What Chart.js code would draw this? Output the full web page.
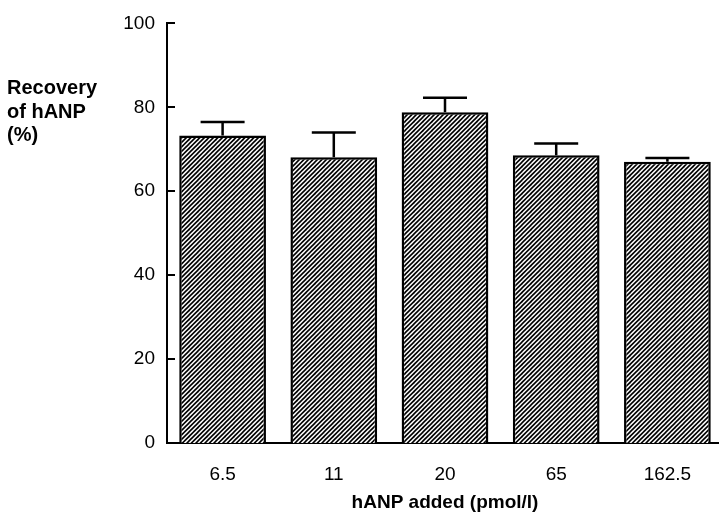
<!DOCTYPE html>
<html>
<head>
<meta charset="utf-8">
<script src="https://cdn.jsdelivr.net/npm/chart.js@4/dist/chart.umd.min.js"></script>
<style>
  html, body { margin: 0; padding: 0; background: #fff; overflow: hidden; }
  #wrap { width: 725px; height: 530px; }
</style>
</head>
<body>
<div id="wrap"><canvas id="recoveryChart" width="725" height="530"></canvas></div>
<script>
const doses = ['6.5', '11', '20', '65', '162.5'];
const recovery = [73.3, 68.1, 78.8, 68.6, 67.0];
const recoveryErr = [3.2, 5.9, 3.5, 2.8, 0.9];
const yTicks = [0, 20, 40, 60, 80, 100];
const yTitleLines = ['Recovery', 'of hANP', '(%)'];

const FONT = '"Liberation Sans", Arial, Helvetica, sans-serif';

// diagonal "/" hatch fill
function makeHatch() {
  const size = 9;
  const c = document.createElement('canvas');
  c.width = size; c.height = size;
  const g = c.getContext('2d');
  g.fillStyle = '#fff';
  g.fillRect(0, 0, size, size);
  g.strokeStyle = '#000';
  g.lineWidth = 1.6;
  for (let k = -9; k <= 18; k += 4.5) {
    g.beginPath();
    g.moveTo(k - 2, 2 + size);
    g.lineTo(k + size + 2, -2);
    g.stroke();
  }
  return g.createPattern(c, 'repeat');
}

// small ticks pointing into the plot, plus the upward error bars
const extras = {
  id: 'extras',
  afterDatasetsDraw(chart) {
    const ctx = chart.ctx;
    const y = chart.scales.y;
    const meta = chart.getDatasetMeta(0);
    ctx.save();
    ctx.strokeStyle = '#000';
    ctx.lineWidth = 2.5;
    meta.data.forEach((bar, i) => {
      const top = y.getPixelForValue(recovery[i] + recoveryErr[i]);
      ctx.beginPath();
      ctx.moveTo(bar.x, bar.y);
      ctx.lineTo(bar.x, top);
      ctx.moveTo(bar.x - 22, top);
      ctx.lineTo(bar.x + 22, top);
      ctx.stroke();
    });
    ctx.lineWidth = 2;
    yTicks.forEach(v => {
      const py = Math.round(y.getPixelForValue(v));
      ctx.beginPath();
      ctx.moveTo(y.right, py);
      ctx.lineTo(y.right + 8, py);
      ctx.stroke();
    });
    ctx.restore();
  },
  afterDraw(chart) {
    const ctx = chart.ctx;
    ctx.save();
    ctx.fillStyle = '#000';
    ctx.font = 'bold 20px ' + FONT;
    ctx.textAlign = 'left';
    ctx.textBaseline = 'alphabetic';
    yTitleLines.forEach((t, i) => ctx.fillText(t, 7, 94 + i * 23.5));
    ctx.restore();
  }
};

new Chart(document.getElementById('recoveryChart'), {
  type: 'bar',
  data: {
    labels: doses,
    datasets: [{
      data: recovery,
      backgroundColor: makeHatch(),
      borderColor: '#000',
      borderWidth: 2.5,
      borderSkipped: 'start',
      categoryPercentage: 1,
      barPercentage: 0.78
    }]
  },
  options: {
    responsive: false,
    animation: false,
    devicePixelRatio: 1,
    layout: { padding: { top: 13, right: 2, left: 0, bottom: 0 } },
    plugins: { legend: { display: false }, tooltip: { enabled: false } },
    scales: {
      x: {
        grid: { display: false, drawTicks: false },
        border: { display: true, color: '#000', width: 2 },
        ticks: { color: '#000', font: { family: FONT, size: 19 }, padding: 20 },
        title: {
          display: true,
          text: 'hANP added (pmol/l)',
          color: '#000',
          font: { family: FONT, size: 19, weight: 'bold' },
          padding: { top: 0, bottom: 16 }
        },
        afterFit(scale) { scale.height = 87; }
      },
      y: {
        min: 0,
        max: 100,
        grid: { display: false, drawTicks: false },
        border: { display: true, color: '#000', width: 2 },
        ticks: {
          stepSize: 20,
          color: '#000',
          padding: 12,
          font: { family: FONT, size: 19 }
        },
        afterFit(scale) { scale.width = 167; }
      }
    }
  },
  plugins: [extras]
});
</script>
</body>
</html>
